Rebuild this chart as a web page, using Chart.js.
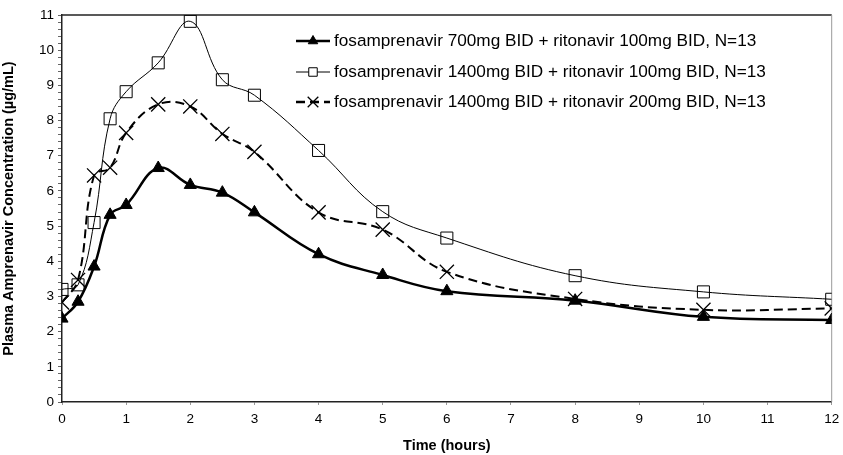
<!DOCTYPE html>
<html>
<head>
<meta charset="utf-8">
<script src="https://cdn.jsdelivr.net/npm/chart.js@4"></script>
<style>
  html, body { margin: 0; padding: 0; background: #fff; }
  #wrap { width: 843px; height: 455px; }
</style>
</head>
<body>
<div id="wrap"><canvas id="pk"></canvas></div>
<script>
// sampling times (hours)
const times = [0, 0.25, 0.5, 0.75, 1, 1.5, 2, 2.5, 3, 4, 5, 6, 8, 10, 12];

// mean plasma amprenavir concentration (ug/mL)
const fpv700rtv100 = [2.37, 2.85, 3.85, 5.32, 5.6, 6.65, 6.17, 5.95, 5.39, 4.2, 3.61, 3.15, 2.88, 2.42, 2.33];
const fpv1400rtv100 = [3.2, 3.33, 5.1, 8.05, 8.82, 9.64, 10.82, 9.16, 8.72, 7.15, 5.41, 4.66, 3.59, 3.13, 2.92];
const fpv1400rtv200 = [2.83, 3.47, 6.44, 6.66, 7.65, 8.46, 8.4, 7.62, 7.11, 5.39, 4.9, 3.7, 2.93, 2.62, 2.66];

const seriesLabels = [
  'fosamprenavir 700mg BID + ritonavir 100mg BID, N=13',
  'fosamprenavir 1400mg BID + ritonavir 100mg BID, N=13',
  'fosamprenavir 1400mg BID + ritonavir 200mg BID, N=13'
];

const FONT = 'Arial, "Liberation Sans", sans-serif';

function pts(values) {
  return times.map((t, i) => ({ x: t, y: values[i] }));
}

// legend drawn as line + marker samples, like the original figure
const sampleLegend = {
  id: 'sampleLegend',
  afterDraw(chart) {
    const ctx = chart.ctx;
    const x0 = 296, x1 = 330, textX = 334;
    const rows = [41, 72, 102];
    const marks = [
      { pointStyle: 'triangle', radius: 5.5, backgroundColor: '#000', borderColor: '#000', borderWidth: 1 },
      { pointStyle: 'rect', radius: 6, backgroundColor: '#fff', borderColor: '#000', borderWidth: 1 },
      { pointStyle: 'crossRot', radius: 7.5, backgroundColor: '#000', borderColor: '#000', borderWidth: 1.3 }
    ];
    const lines = [
      { width: 2.5, dash: [] },
      { width: 1, dash: [] },
      { width: 2.5, dash: [9, 5] }
    ];
    ctx.save();
    rows.forEach((y, i) => {
      ctx.strokeStyle = '#000';
      ctx.lineWidth = lines[i].width;
      ctx.setLineDash(lines[i].dash);
      ctx.beginPath();
      ctx.moveTo(x0, y);
      ctx.lineTo(x1, y);
      ctx.stroke();
      ctx.setLineDash([]);
      ctx.fillStyle = marks[i].backgroundColor;
      ctx.strokeStyle = marks[i].borderColor;
      ctx.lineWidth = marks[i].borderWidth;
      Chart.helpers.drawPoint(ctx, marks[i], (x0 + x1) / 2, y);
      ctx.fillStyle = '#000';
      ctx.font = '17.2px ' + FONT;
      ctx.textBaseline = 'middle';
      ctx.textAlign = 'left';
      ctx.fillText(seriesLabels[i], textX, y);
    });
    ctx.restore();
  }
};

// plot-area frame: dark top edge, grey right edge
const plotFrame = {
  id: 'plotFrame',
  beforeDatasetsDraw(chart) {
    const { ctx, chartArea: a } = chart;
    ctx.save();
    ctx.lineWidth = 1.5;
    ctx.strokeStyle = '#222';
    ctx.beginPath();
    ctx.moveTo(a.left, a.top);
    ctx.lineTo(a.right, a.top);
    ctx.stroke();
    ctx.lineWidth = 1;
    ctx.strokeStyle = '#999';
    ctx.beginPath();
    ctx.moveTo(a.right, a.top);
    ctx.lineTo(a.right, a.bottom);
    ctx.stroke();
    ctx.restore();
  }
};

new Chart(document.getElementById('pk'), {
  type: 'line',
  data: {
    datasets: [
      {
        label: seriesLabels[0],
        data: pts(fpv700rtv100),
        borderColor: '#000',
        borderWidth: 2.5,
        pointStyle: 'triangle',
        pointRadius: 7,
        pointBackgroundColor: '#000',
        pointBorderColor: '#000',
        pointBorderWidth: 1,
        tension: 0.4
      },
      {
        label: seriesLabels[1],
        data: pts(fpv1400rtv100),
        borderColor: '#000',
        borderWidth: 1,
        pointStyle: 'rect',
        pointRadius: 8.5,
        pointBackgroundColor: 'rgba(255,255,255,0)',
        pointBorderColor: '#000',
        pointBorderWidth: 1,
        tension: 0.4
      },
      {
        label: seriesLabels[2],
        data: pts(fpv1400rtv200),
        borderColor: '#000',
        borderWidth: 2,
        borderDash: [9, 5],
        pointStyle: 'crossRot',
        pointRadius: 10,
        pointBorderColor: '#000',
        pointBorderWidth: 1.3,
        tension: 0.4
      }
    ]
  },
  options: {
    responsive: true,
    maintainAspectRatio: false,
    animation: false,
    layout: { padding: { top: 15, right: 5, left: 0, bottom: 0 } },
    plugins: {
      legend: { display: false },
      tooltip: { enabled: false }
    },
    scales: {
      x: {
        type: 'linear',
        min: 0,
        max: 12,
        afterFit: (s) => { s.height = 53; s.paddingRight = 0; },
        border: { color: '#222', width: 1.5 },
        grid: { drawOnChartArea: false, tickLength: 3, tickColor: '#999' },
        ticks: { stepSize: 1, color: '#000', font: { family: FONT, size: 13.5 }, padding: 6, maxRotation: 0 },
        title: { display: true, text: 'Time (hours)', color: '#000', font: { family: FONT, size: 14.5, weight: 'bold' }, padding: { top: 2, bottom: 0 } }
      },
      y: {
        min: 0,
        max: 11,
        afterFit: (s) => { s.width = 62; },
        border: { color: '#222', width: 1.5 },
        grid: { drawOnChartArea: false, tickLength: 4, tickColor: '#666' },
        ticks: {
          stepSize: 0.2,
          autoSkip: false,
          color: '#000',
          font: { family: FONT, size: 13.5 },
          padding: 4,
          callback: (v) => Math.abs(v - Math.round(v)) < 1e-6 ? String(Math.round(v)) : ''
        },
        title: { display: true, text: 'Plasma Amprenavir Concentration (\u00b5g/mL)', color: '#000', font: { family: FONT, size: 14.5, weight: 'bold' }, padding: { top: 0, bottom: 2 } }
      }
    }
  },
  plugins: [plotFrame, sampleLegend]
});
</script>
</body>
</html>
